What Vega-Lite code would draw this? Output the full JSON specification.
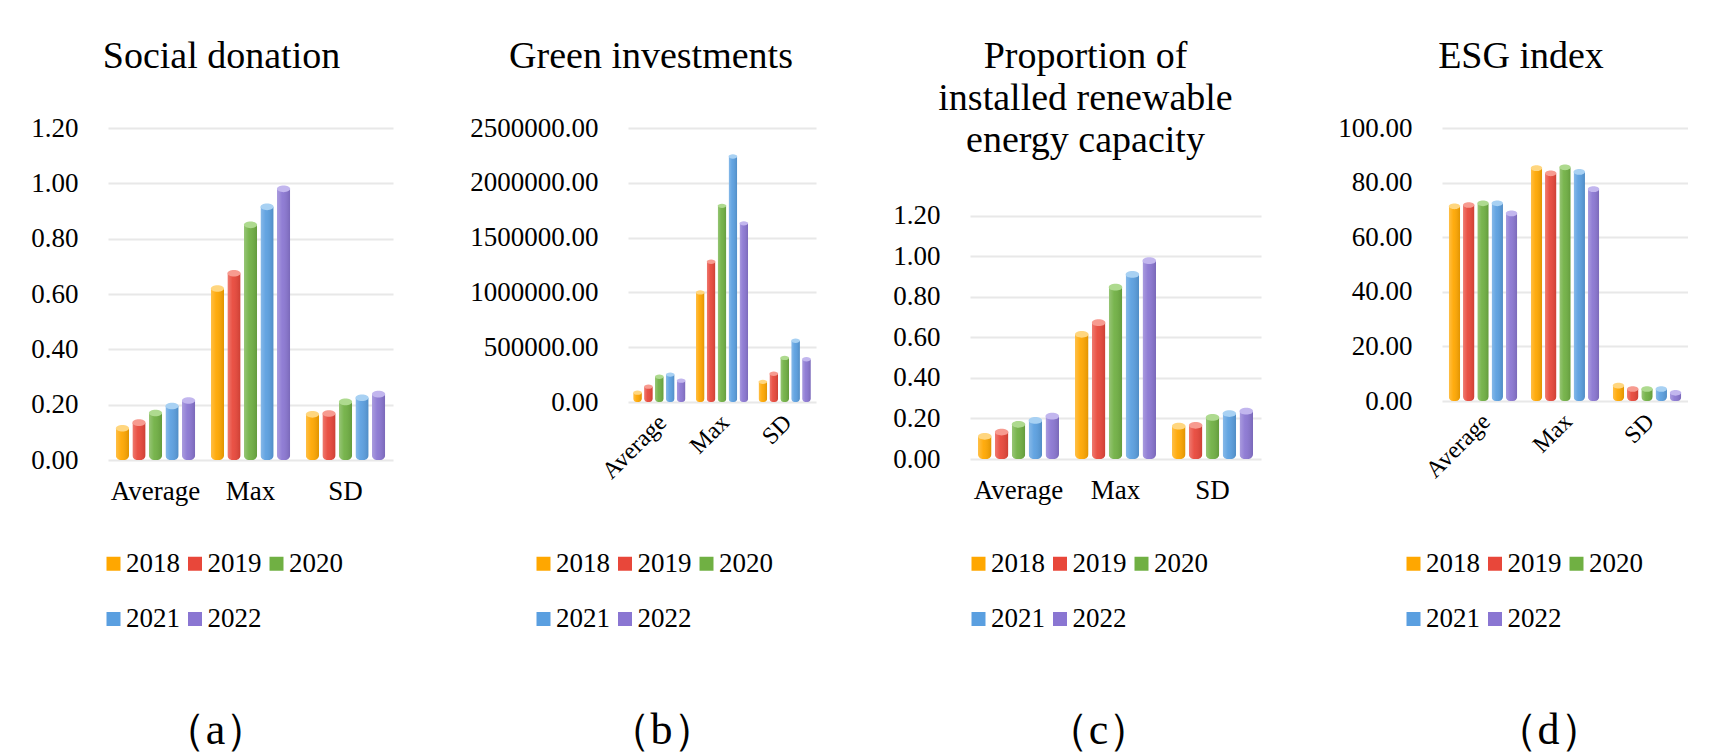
{
  "$schema": "https://vega.github.io/schema/vega-lite/v6.json",
  "background": "white",
  "padding": {"left": 30, "top": 38, "right": 0, "bottom": 0},
  "spacing": 76,
  "datasets": {
    "social": [
      {"stat": "Average", "year": "2018", "value": 0.115},
      {"stat": "Average", "year": "2019", "value": 0.135},
      {"stat": "Average", "year": "2020", "value": 0.17},
      {"stat": "Average", "year": "2021", "value": 0.195},
      {"stat": "Average", "year": "2022", "value": 0.215},
      {"stat": "Max", "year": "2018", "value": 0.62},
      {"stat": "Max", "year": "2019", "value": 0.675},
      {"stat": "Max", "year": "2020", "value": 0.85},
      {"stat": "Max", "year": "2021", "value": 0.915},
      {"stat": "Max", "year": "2022", "value": 0.98},
      {"stat": "SD", "year": "2018", "value": 0.165},
      {"stat": "SD", "year": "2019", "value": 0.168},
      {"stat": "SD", "year": "2020", "value": 0.21},
      {"stat": "SD", "year": "2021", "value": 0.225},
      {"stat": "SD", "year": "2022", "value": 0.238}
    ],
    "green": [
      {"stat": "Average", "year": "2018", "value": 85000},
      {"stat": "Average", "year": "2019", "value": 140000},
      {"stat": "Average", "year": "2020", "value": 230000},
      {"stat": "Average", "year": "2021", "value": 250000},
      {"stat": "Average", "year": "2022", "value": 195000},
      {"stat": "Max", "year": "2018", "value": 1000000},
      {"stat": "Max", "year": "2019", "value": 1280000},
      {"stat": "Max", "year": "2020", "value": 1790000},
      {"stat": "Max", "year": "2021", "value": 2240000},
      {"stat": "Max", "year": "2022", "value": 1630000},
      {"stat": "SD", "year": "2018", "value": 184000},
      {"stat": "SD", "year": "2019", "value": 258000},
      {"stat": "SD", "year": "2020", "value": 402000},
      {"stat": "SD", "year": "2021", "value": 559000},
      {"stat": "SD", "year": "2022", "value": 390000}
    ],
    "renew": [
      {"stat": "Average", "year": "2018", "value": 0.112},
      {"stat": "Average", "year": "2019", "value": 0.133},
      {"stat": "Average", "year": "2020", "value": 0.171},
      {"stat": "Average", "year": "2021", "value": 0.19},
      {"stat": "Average", "year": "2022", "value": 0.211},
      {"stat": "Max", "year": "2018", "value": 0.615},
      {"stat": "Max", "year": "2019", "value": 0.672},
      {"stat": "Max", "year": "2020", "value": 0.847},
      {"stat": "Max", "year": "2021", "value": 0.91},
      {"stat": "Max", "year": "2022", "value": 0.978},
      {"stat": "SD", "year": "2018", "value": 0.162},
      {"stat": "SD", "year": "2019", "value": 0.166},
      {"stat": "SD", "year": "2020", "value": 0.205},
      {"stat": "SD", "year": "2021", "value": 0.224},
      {"stat": "SD", "year": "2022", "value": 0.236}
    ],
    "esg": [
      {"stat": "Average", "year": "2018", "value": 71.3},
      {"stat": "Average", "year": "2019", "value": 71.8},
      {"stat": "Average", "year": "2020", "value": 72.4},
      {"stat": "Average", "year": "2021", "value": 72.4},
      {"stat": "Average", "year": "2022", "value": 68.7},
      {"stat": "Max", "year": "2018", "value": 85.3},
      {"stat": "Max", "year": "2019", "value": 83.4},
      {"stat": "Max", "year": "2020", "value": 85.6},
      {"stat": "Max", "year": "2021", "value": 83.9},
      {"stat": "Max", "year": "2022", "value": 77.6},
      {"stat": "SD", "year": "2018", "value": 5.6},
      {"stat": "SD", "year": "2019", "value": 4.4},
      {"stat": "SD", "year": "2020", "value": 4.4},
      {"stat": "SD", "year": "2021", "value": 4.4},
      {"stat": "SD", "year": "2022", "value": 3.0}
    ]
  },
  "config": {
    "font": "Liberation Serif",
    "view": {"stroke": null},
    "style": {"guide-label": {"font": "Liberation Serif"}},
    "axis": {
      "labelFont": "Liberation Serif",
      "labelFontSize": 27,
      "labelColor": "#000000",
      "domain": false,
      "ticks": false,
      "tickSize": 0,
      "gridColor": "#e8e8e8",
      "gridWidth": 2,
      "titleFont": "Liberation Serif",
      "titleFontSize": 44,
      "titleFontWeight": "normal",
      "titleColor": "#000000",
      "titleBaseline": "alphabetic",
      "titleAlign": "center",
      "titleAngle": 0
    },
    "axisX": {"grid": false},
    "title": {
      "font": "Liberation Serif",
      "fontSize": 38,
      "fontWeight": "normal",
      "color": "#000000",
      "anchor": "middle",
      "lineHeight": 42,
      "offset": 38
    },
    "legend": {
      "orient": "none",
      "direction": "horizontal",
      "columns": 3,
      "padding": 0,
      "symbolType": "square",
      "symbolSize": 196,
      "symbolStrokeWidth": 0,
      "labelFont": "Liberation Serif",
      "labelFontSize": 27,
      "labelColor": "#000000",
      "labelOffset": -1,
      "columnPadding": 1.5,
      "rowPadding": 27.5,
      "labelLimit": 0
    },
    "point": {"strokeWidth": 0}
  },
  "resolve": {
    "scale": {"color": "independent", "y": "independent", "x": "independent", "xOffset": "independent"},
    "legend": {"color": "independent"}
  },
  "hconcat": [
    {
      "data": {"name": "social"},
      "title": {"text": "Social donation", "dx": -29},
      "width": 285,
      "height": 332,
      "encoding": {
        "x": {"field": "stat", "type": "nominal", "sort": ["Average", "Max", "SD"],
          "scale": {"paddingInner": 0.13, "paddingOuter": 0.065},
          "axis": {"labelAngle": 0, "labelPadding": 18, "title": "（a）", "titleX": 107, "titleY": 283}},
        "xOffset": {"field": "year", "type": "nominal", "scale": {"paddingInner": 0.2, "paddingOuter": 0.1}},
        "y": {"field": "value", "type": "quantitative", "scale": {"domain": [0, 1.2], "nice": false},
          "axis": {"values": [0, 0.2, 0.4, 0.6, 0.8, 1.0, 1.2], "format": ".2f", "title": null, "labelPadding": 30}}
      },
      "layer": [
        {
          "mark": {"type": "bar", "cornerRadiusBottomLeft": 5, "cornerRadiusBottomRight": 5},
          "encoding": {
            "color": {"field": "year", "type": "nominal",
              "scale": {"domain": ["2018", "2019", "2020", "2021", "2022"], "range": ["#FFA700", "#E8473A", "#70B043", "#5A9FE0", "#8A76D2"]},
              "legend": {"title": null, "legendX": -8, "legendY": 422, "labelFont": "Liberation Serif", "labelFontSize": 27}}
          }
        },
        {
          "mark": {"type": "bar", "cornerRadiusBottomLeft": 5, "cornerRadiusBottomRight": 5,
            "color": {"gradient": "linear", "x1": 0, "y1": 0, "x2": 1, "y2": 0, "stops": [{"offset": 0, "color": "rgba(255,255,255,0.28)"}, {"offset": 0.4, "color": "rgba(255,255,255,0.06)"}, {"offset": 1, "color": "rgba(0,0,0,0.12)"}]}}
        },
        {
          "mark": {"type": "point", "shape": "M-1,0A1,0.5,0,1,0,1,0A1,0.5,0,1,0,-1,0Z", "filled": true, "opacity": 1, "size": 175},
          "encoding": {
            "fill": {"field": "year", "type": "nominal",
              "scale": {"domain": ["2018", "2019", "2020", "2021", "2022"], "range": ["#FFD67F", "#F79B90", "#AEDA8F", "#A8D1F3", "#C2B6EE"]},
              "legend": null}
          }
        }
      ]
    },
    {
      "data": {"name": "green"},
      "title": {"text": "Green investments", "dx": -71},
      "width": 188,
      "height": 274,
      "encoding": {
        "x": {"field": "stat", "type": "nominal", "sort": ["Average", "Max", "SD"],
          "scale": {"paddingInner": 0.13, "paddingOuter": 0.065},
          "axis": {"labelAngle": -45, "labelFontSize": 24, "labelPadding": 8, "labelOffset": -5, "title": "（b）", "titleX": 33, "titleY": 341}},
        "xOffset": {"field": "year", "type": "nominal", "scale": {"paddingInner": 0.2, "paddingOuter": 0.1}},
        "y": {"field": "value", "type": "quantitative", "scale": {"domain": [0, 2500000], "nice": false},
          "axis": {"values": [0, 500000, 1000000, 1500000, 2000000, 2500000], "format": ".2f", "title": null, "labelPadding": 30}}
      },
      "layer": [
        {
          "mark": {"type": "bar", "cornerRadiusBottomLeft": 3.5, "cornerRadiusBottomRight": 3.5},
          "encoding": {
            "color": {"field": "year", "type": "nominal",
              "scale": {"domain": ["2018", "2019", "2020", "2021", "2022"], "range": ["#FFA700", "#E8473A", "#70B043", "#5A9FE0", "#8A76D2"]},
              "legend": {"title": null, "legendX": -98, "legendY": 422, "labelFont": "Liberation Serif", "labelFontSize": 27}}
          }
        },
        {
          "mark": {"type": "bar", "cornerRadiusBottomLeft": 3.5, "cornerRadiusBottomRight": 3.5,
            "color": {"gradient": "linear", "x1": 0, "y1": 0, "x2": 1, "y2": 0, "stops": [{"offset": 0, "color": "rgba(255,255,255,0.28)"}, {"offset": 0.4, "color": "rgba(255,255,255,0.06)"}, {"offset": 1, "color": "rgba(0,0,0,0.12)"}]}}
        },
        {
          "mark": {"type": "point", "shape": "M-1,0A1,0.5,0,1,0,1,0A1,0.5,0,1,0,-1,0Z", "filled": true, "opacity": 1, "size": 76},
          "encoding": {
            "fill": {"field": "year", "type": "nominal",
              "scale": {"domain": ["2018", "2019", "2020", "2021", "2022"], "range": ["#FFD67F", "#F79B90", "#AEDA8F", "#A8D1F3", "#C2B6EE"]},
              "legend": null}
          }
        }
      ]
    },
    {
      "data": {"name": "renew"},
      "title": {"text": ["Proportion of", "installed renewable", "energy capacity"], "dx": -30, "dy": 70},
      "width": 291,
      "height": 331,
      "encoding": {
        "x": {"field": "stat", "type": "nominal", "sort": ["Average", "Max", "SD"],
          "scale": {"paddingInner": 0.13, "paddingOuter": 0.065},
          "axis": {"labelAngle": 0, "labelPadding": 18, "title": "（c）", "titleX": 128, "titleY": 284}},
        "xOffset": {"field": "year", "type": "nominal", "scale": {"paddingInner": 0.2, "paddingOuter": 0.1}},
        "y": {"field": "value", "type": "quantitative", "scale": {"domain": [0, 1.632], "nice": false},
          "axis": {"values": [0, 0.2, 0.4, 0.6, 0.8, 1.0, 1.2], "format": ".2f", "title": null, "labelPadding": 30}}
      },
      "layer": [
        {
          "mark": {"type": "bar", "cornerRadiusBottomLeft": 5, "cornerRadiusBottomRight": 5},
          "encoding": {
            "color": {"field": "year", "type": "nominal",
              "scale": {"domain": ["2018", "2019", "2020", "2021", "2022"], "range": ["#FFA700", "#E8473A", "#70B043", "#5A9FE0", "#8A76D2"]},
              "legend": {"title": null, "legendX": -5, "legendY": 422, "labelFont": "Liberation Serif", "labelFontSize": 27}}
          }
        },
        {
          "mark": {"type": "bar", "cornerRadiusBottomLeft": 5, "cornerRadiusBottomRight": 5,
            "color": {"gradient": "linear", "x1": 0, "y1": 0, "x2": 1, "y2": 0, "stops": [{"offset": 0, "color": "rgba(255,255,255,0.28)"}, {"offset": 0.4, "color": "rgba(255,255,255,0.06)"}, {"offset": 1, "color": "rgba(0,0,0,0.12)"}]}}
        },
        {
          "mark": {"type": "point", "shape": "M-1,0A1,0.5,0,1,0,1,0A1,0.5,0,1,0,-1,0Z", "filled": true, "opacity": 1, "size": 182},
          "encoding": {
            "fill": {"field": "year", "type": "nominal",
              "scale": {"domain": ["2018", "2019", "2020", "2021", "2022"], "range": ["#FFD67F", "#F79B90", "#AEDA8F", "#A8D1F3", "#C2B6EE"]},
              "legend": null}
          }
        }
      ]
    },
    {
      "data": {"name": "esg"},
      "title": {"text": "ESG index", "dx": -44},
      "width": 246,
      "height": 273,
      "encoding": {
        "x": {"field": "stat", "type": "nominal", "sort": ["Average", "Max", "SD"],
          "scale": {"paddingInner": 0.13, "paddingOuter": 0.065},
          "axis": {"labelAngle": -45, "labelFontSize": 24, "labelPadding": 8, "labelOffset": -5, "title": "（d）", "titleX": 106, "titleY": 342}},
        "xOffset": {"field": "year", "type": "nominal", "scale": {"paddingInner": 0.2, "paddingOuter": 0.1}},
        "y": {"field": "value", "type": "quantitative", "scale": {"domain": [0, 100], "nice": false},
          "axis": {"values": [0, 20, 40, 60, 80, 100], "format": ".2f", "title": null, "labelPadding": 30}}
      },
      "layer": [
        {
          "mark": {"type": "bar", "cornerRadiusBottomLeft": 4.5, "cornerRadiusBottomRight": 4.5},
          "encoding": {
            "color": {"field": "year", "type": "nominal",
              "scale": {"domain": ["2018", "2019", "2020", "2021", "2022"], "range": ["#FFA700", "#E8473A", "#70B043", "#5A9FE0", "#8A76D2"]},
              "legend": {"title": null, "legendX": -42, "legendY": 422, "labelFont": "Liberation Serif", "labelFontSize": 27}}
          }
        },
        {
          "mark": {"type": "bar", "cornerRadiusBottomLeft": 4.5, "cornerRadiusBottomRight": 4.5,
            "color": {"gradient": "linear", "x1": 0, "y1": 0, "x2": 1, "y2": 0, "stops": [{"offset": 0, "color": "rgba(255,255,255,0.28)"}, {"offset": 0.4, "color": "rgba(255,255,255,0.06)"}, {"offset": 1, "color": "rgba(0,0,0,0.12)"}]}}
        },
        {
          "mark": {"type": "point", "shape": "M-1,0A1,0.5,0,1,0,1,0A1,0.5,0,1,0,-1,0Z", "filled": true, "opacity": 1, "size": 130},
          "encoding": {
            "fill": {"field": "year", "type": "nominal",
              "scale": {"domain": ["2018", "2019", "2020", "2021", "2022"], "range": ["#FFD67F", "#F79B90", "#AEDA8F", "#A8D1F3", "#C2B6EE"]},
              "legend": null}
          }
        }
      ]
    }
  ]
}
